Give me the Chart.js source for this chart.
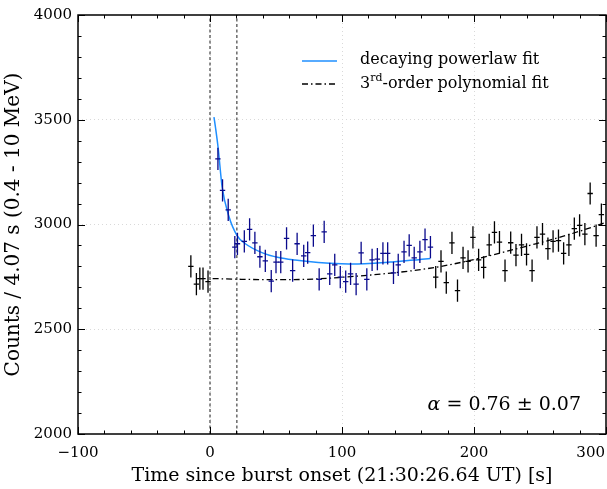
<!DOCTYPE html>
<html>
<head>
<meta charset="utf-8">
<script src="https://cdn.jsdelivr.net/npm/chart.js@4.4.1/dist/chart.umd.min.js"></script>
<style>
  html, body { margin:0; padding:0; background:#fff; }
  #c { display:block; }
</style>
</head>
<body>
<canvas id="c" width="607" height="489"></canvas>
<script>
/* ── light-curve bins ── */
const preT  = [-14.5, -10.3, -7.7, -5.3, -1.5];
const preC  = [2800, 2715, 2742, 2742, 2727];

const burstT = [6.0, 9.5, 13.8, 18.8, 20.8, 26.0, 30.0, 34.0, 37.8, 41.9, 46.4, 50.0, 53.6, 58.0,
                62.6, 66.0, 71.0, 74.0, 78.3, 82.7, 86.5, 90.7, 94.5, 98.7, 102.8, 106.5, 110.7,
                114.5, 118.8, 122.8, 126.8, 131.0, 134.6, 139.0, 142.6, 147.0, 150.9, 154.7,
                159.0, 162.9, 167.0];
const burstC = [3313, 3163, 3070, 2892, 2908, 2919, 2977, 2912, 2846, 2826, 2730, 2820, 2820, 2934,
                2780, 2908, 2850, 2866, 2947, 2738, 2965, 2764, 2807, 2749, 2727, 2764, 2715,
                2865, 2738, 2831, 2835, 2862, 2862, 2769, 2807, 2869, 2900, 2841,
                2869, 2928, 2892];

const postT = [171, 175, 179, 183.3, 187.5, 191.7, 195.5, 199.2, 203.5, 207.3, 211.5, 215.5, 219.3,
               223.5, 227.8, 231.8, 236, 239.8, 244, 247.7, 251.9, 256, 259.9, 264, 267.9, 271.9,
               276, 280, 284, 288, 292.5, 296.5];
const postC = [2749, 2824, 2723, 2912, 2684, 2841, 2824, 2939, 2831, 2795, 2903, 2962, 2916,
               2780, 2913, 2854, 2903, 2857, 2780, 2939, 2954, 2885, 2919, 2923, 2862, 2903,
               2980, 2996, 2954, 3148, 2947, 3047];

const binHalf  = 2.035;   // half of 4.07 s bin
const countErr = 53;      // vertical error bar half-length

/* fit curves as traced */
const plT = [3, 4.3, 6.2, 9.2, 14.3, 20.5, 26.8, 39.3, 52, 64.4, 82, 99.5, 112, 124.6, 139.6, 154.7, 167];
const plC = [3513, 3457, 3364, 3179, 3039, 2947, 2908, 2866, 2842, 2830, 2819, 2813, 2812, 2815, 2822, 2830, 2838];

const polyT = [2, 20, 40, 60, 80, 100, 120, 140, 160, 180, 200, 220, 240, 260, 280, 300];
const polyC = [2742, 2739, 2737, 2737, 2740, 2748, 2758, 2770, 2785, 2806, 2833, 2864, 2897, 2930, 2968, 3010];

/* onset window markers */
const markT = [0, 20.35];

const xTicks = [-100, 0, 100, 200, 300];
const yTicks = [2000, 2500, 3000, 3500, 4000];

const serif = '"DejaVu Serif", serif';
const pts = (t, c) => t.map((v, i) => ({ x: v, y: c[i] }));
const fmt = v => String(v).replace('-', '\u2212');

/* crosses: horizontal = bin width, vertical = count error */
const errorBars = {
  id: 'errorBars',
  afterDatasetsDraw(chart) {
    const { ctx, scales: { x, y } } = chart;
    chart.data.datasets.forEach(ds => {
      if (!ds.errBars) return;
      ctx.save();
      ctx.strokeStyle = ds.borderColor;
      ctx.lineWidth = 1.3;
      ds.data.forEach(p => {
        const px = x.getPixelForValue(p.x), py = y.getPixelForValue(p.y);
        ctx.beginPath();
        ctx.moveTo(x.getPixelForValue(p.x - binHalf), py);
        ctx.lineTo(x.getPixelForValue(p.x + binHalf), py);
        ctx.moveTo(px, y.getPixelForValue(p.y - countErr));
        ctx.lineTo(px, y.getPixelForValue(p.y + countErr));
        ctx.stroke();
      });
      ctx.restore();
    });
  }
};

/* frame, inward ticks, x labels, legend, alpha note */
const decor = {
  id: 'decor',
  afterDraw(chart) {
    const { ctx, chartArea: a, scales: { x, y } } = chart;
    ctx.save();
    ctx.strokeStyle = '#000';
    ctx.lineWidth = 1.5;
    ctx.strokeRect(a.left, a.top, a.right - a.left, a.bottom - a.top);

    ctx.lineWidth = 1;
    ctx.beginPath();
    for (let v = -100; v <= 300; v += 20) {
      const px = Math.round(x.getPixelForValue(v)) + 0.5;
      const L = v % 100 === 0 ? 7 : 3.5;
      ctx.moveTo(px, a.bottom); ctx.lineTo(px, a.bottom - L);
      ctx.moveTo(px, a.top);    ctx.lineTo(px, a.top + L);
    }
    for (let v = 2000; v <= 4000; v += 100) {
      const py = Math.round(y.getPixelForValue(v)) + 0.5;
      const L = v % 500 === 0 ? 7 : 3.5;
      ctx.moveTo(a.left, py);  ctx.lineTo(a.left + L, py);
      ctx.moveTo(a.right, py); ctx.lineTo(a.right - L, py);
    }
    ctx.stroke();

    /* x tick labels (last one kept inside the canvas) */
    ctx.fillStyle = '#000';
    ctx.font = `15px ${serif}`;
    ctx.textAlign = 'center';
    ctx.textBaseline = 'middle';
    x.ticks.forEach(t => {
      const s = fmt(t.value);
      const w = ctx.measureText(s).width;
      const px = Math.min(x.getPixelForValue(t.value), chart.width - 2 - w / 2);
      ctx.fillText(s, px, a.bottom + 19);
    });

    /* legend */
    ctx.font = `16px ${serif}`;
    ctx.textAlign = 'left';
    ctx.strokeStyle = '#1f8fff';
    ctx.lineWidth = 1.5;
    ctx.beginPath(); ctx.moveTo(302, 61); ctx.lineTo(337, 61); ctx.stroke();
    ctx.fillText('decaying powerlaw fit', 360, 60);

    ctx.strokeStyle = '#000';
    ctx.lineWidth = 1.3;
    ctx.setLineDash([6, 3, 1.5, 3]);
    ctx.beginPath(); ctx.moveTo(302, 84); ctx.lineTo(337, 84); ctx.stroke();
    ctx.setLineDash([]);
    let tx = 360;
    ctx.fillText('3', tx, 84); tx += ctx.measureText('3').width;
    ctx.font = `11px ${serif}`;
    ctx.fillText('rd', tx, 78); tx += ctx.measureText('rd').width;
    ctx.font = `16px ${serif}`;
    ctx.fillText('-order polynomial fit', tx, 84);

    /* alpha note, right aligned */
    const rest = ' = 0.76 \u00b1 0.07';
    ctx.font = `19px ${serif}`;
    const wr = ctx.measureText(rest).width;
    ctx.font = `italic 19px ${serif}`;
    const wa = ctx.measureText('\u03b1').width;
    const x0 = 581 - wr - wa;
    ctx.fillText('\u03b1', x0, 405);
    ctx.font = `19px ${serif}`;
    ctx.fillText(rest, x0 + wa, 405);
    ctx.restore();
  }
};

const gridColor = (lo, hi) => c => (c.tick && c.tick.value > lo && c.tick.value < hi) ? '#d9d9d9' : 'rgba(0,0,0,0)';

new Chart(document.getElementById('c'), {
  type: 'scatter',
  data: {
    datasets: [
      { label: 'pre', data: pts(preT, preC), borderColor: '#000', pointRadius: 0, errBars: true },
      { label: 'burst', data: pts(burstT, burstC), borderColor: '#0a0a8c', pointRadius: 0, errBars: true },
      { label: 'post', data: pts(postT, postC), borderColor: '#000', pointRadius: 0, errBars: true },
      { label: 'decaying powerlaw fit', data: pts(plT, plC), showLine: true, borderColor: '#1f8fff',
        borderWidth: 1.5, pointRadius: 0, cubicInterpolationMode: 'monotone' },
      { label: '3rd-order polynomial fit', data: pts(polyT, polyC), showLine: true, borderColor: '#000',
        borderWidth: 1.3, borderDash: [6, 3, 1.5, 3], pointRadius: 0, cubicInterpolationMode: 'monotone' },
      ...markT.map(t => ({ label: 'mark', data: [{ x: t, y: 2000 }, { x: t, y: 4000 }], showLine: true,
        borderColor: '#444', borderWidth: 1.2, borderDash: [3, 2.5], pointRadius: 0 }))
    ]
  },
  options: {
    responsive: false,
    animation: false,
    devicePixelRatio: 1,
    layout: { padding: { top: 12, right: 1, left: 0, bottom: 0 } },
    plugins: { legend: { display: false }, tooltip: { enabled: false } },
    scales: {
      x: {
        type: 'linear', min: -100, max: 300,
        afterBuildTicks: s => { s.ticks = xTicks.map(v => ({ value: v })); },
        afterFit: s => { s.height = 55; s.paddingLeft = 0; s.paddingRight = 0; },
        ticks: { display: false },
        grid: { color: gridColor(-100, 300), drawTicks: false, lineWidth: 1 },
        border: { display: false, dash: [1, 3] },
        title: { display: true, text: 'Time since burst onset (21:30:26.64 UT) [s]', color: '#000',
                 font: { family: serif, size: 19 }, padding: { top: 0, bottom: 2 } }
      },
      y: {
        type: 'linear', min: 2000, max: 4000,
        afterBuildTicks: s => { s.ticks = yTicks.map(v => ({ value: v })); },
        afterFit: s => { s.width = 78; },
        ticks: { color: '#000', font: { family: serif, size: 15 }, padding: 6, callback: v => fmt(v) },
        grid: { color: gridColor(2000, 4000), drawTicks: false, lineWidth: 1 },
        border: { display: false, dash: [1, 3] },
        title: { display: true, text: 'Counts / 4.07 s (0.4 - 10 MeV)', color: '#000',
                 font: { family: serif, size: 20 }, padding: { top: 2, bottom: 0 } }
      }
    }
  },
  plugins: [errorBars, decor]
});
</script>
</body>
</html>
